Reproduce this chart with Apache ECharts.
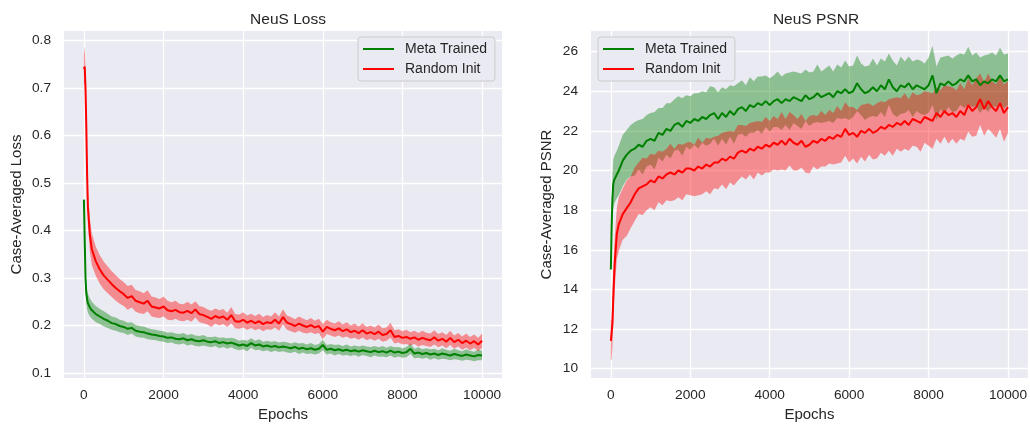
<!DOCTYPE html>
<html><head><meta charset="utf-8">
<script src="https://cdn.jsdelivr.net/npm/echarts@6/dist/echarts.min.js"></script>
<style>html,body{margin:0;padding:0;background:#fff}#c{width:1030px;height:427px}</style>
</head><body><div id="c"></div>
<script>
const epochs = [0,20,40,60,80,100,150,200,300,400,500,600,700,800,900,1000,1100,1200,1300,1400,1500,1600,1700,1800,1900,2000,2100,2200,2300,2400,2500,2600,2700,2800,2900,3000,3100,3200,3300,3400,3500,3600,3700,3800,3900,4000,4100,4200,4300,4400,4500,4600,4700,4800,4900,5000,5100,5200,5300,5400,5500,5600,5700,5800,5900,6000,6100,6200,6300,6400,6500,6600,6700,6800,6900,7000,7100,7200,7300,7400,7500,7600,7700,7800,7900,8000,8100,8200,8300,8400,8500,8600,8700,8800,8900,9000,9100,9200,9300,9400,9500,9600,9700,9800,9900,10000];

const epochTicks = [0,2000,4000,6000,8000,10000];
const lossTicks = [0.1,0.2,0.3,0.4,0.5,0.6,0.7,0.8];
const psnrTicks = [10,12,14,16,18,20,22,24,26];

// NeuS Loss - Random Init (mean, band half-width)
const lossRandom = [0.740,0.745,0.700,0.620,0.520,0.450,0.390,0.360,0.335,0.318,0.305,0.296,0.287,0.279,0.272,0.266,0.258,0.262,0.252,0.249,0.246,0.252,0.240,0.238,0.236,0.240,0.232,0.230,0.233,0.228,0.227,0.231,0.226,0.234,0.224,0.222,0.218,0.214,0.220,0.216,0.219,0.212,0.222,0.209,0.208,0.212,0.206,0.210,0.205,0.209,0.203,0.207,0.205,0.212,0.204,0.218,0.206,0.203,0.199,0.204,0.200,0.197,0.201,0.196,0.199,0.187,0.197,0.193,0.190,0.194,0.188,0.192,0.186,0.189,0.184,0.190,0.183,0.186,0.182,0.187,0.180,0.182,0.190,0.176,0.178,0.174,0.176,0.172,0.175,0.170,0.174,0.171,0.169,0.175,0.168,0.172,0.166,0.174,0.165,0.170,0.163,0.168,0.162,0.167,0.160,0.168];
const lossRandomBand = [0.030,0.042,0.040,0.038,0.036,0.035,0.035,0.033,0.031,0.030,0.029,0.028,0.027,0.027,0.026,0.025,0.025,0.024,0.023,0.023,0.022,0.022,0.021,0.021,0.020,0.021,0.020,0.019,0.019,0.018,0.018,0.019,0.018,0.017,0.017,0.017,0.016,0.017,0.016,0.016,0.016,0.015,0.017,0.015,0.015,0.016,0.015,0.015,0.015,0.016,0.015,0.015,0.014,0.016,0.015,0.016,0.015,0.015,0.014,0.015,0.015,0.014,0.015,0.014,0.015,0.016,0.015,0.014,0.014,0.015,0.014,0.015,0.014,0.015,0.014,0.015,0.014,0.014,0.014,0.015,0.014,0.014,0.016,0.014,0.014,0.014,0.015,0.014,0.014,0.014,0.015,0.014,0.014,0.015,0.014,0.014,0.014,0.015,0.014,0.014,0.014,0.015,0.014,0.014,0.014,0.015];
// NeuS Loss - Meta Trained
const lossMeta = [0.465,0.380,0.300,0.268,0.255,0.247,0.238,0.232,0.224,0.219,0.214,0.210,0.205,0.203,0.199,0.197,0.193,0.195,0.189,0.187,0.186,0.183,0.181,0.180,0.178,0.177,0.174,0.175,0.172,0.171,0.173,0.169,0.171,0.168,0.167,0.169,0.166,0.165,0.167,0.163,0.165,0.162,0.164,0.161,0.158,0.160,0.157,0.163,0.158,0.160,0.156,0.158,0.155,0.157,0.154,0.156,0.154,0.152,0.155,0.151,0.153,0.150,0.152,0.149,0.151,0.159,0.149,0.151,0.148,0.150,0.147,0.149,0.146,0.148,0.145,0.148,0.146,0.144,0.147,0.144,0.146,0.143,0.147,0.143,0.145,0.142,0.144,0.151,0.141,0.143,0.140,0.142,0.139,0.141,0.138,0.141,0.139,0.137,0.140,0.138,0.136,0.139,0.137,0.135,0.138,0.137];
const lossMetaBand = [0.004,0.015,0.020,0.020,0.020,0.020,0.019,0.018,0.017,0.016,0.016,0.015,0.014,0.014,0.013,0.013,0.013,0.012,0.012,0.012,0.012,0.012,0.011,0.011,0.011,0.011,0.011,0.011,0.011,0.011,0.011,0.011,0.011,0.011,0.011,0.011,0.010,0.011,0.010,0.011,0.010,0.011,0.010,0.011,0.010,0.010,0.011,0.010,0.010,0.011,0.010,0.010,0.011,0.010,0.010,0.010,0.011,0.010,0.010,0.011,0.010,0.010,0.011,0.010,0.010,0.011,0.010,0.010,0.011,0.010,0.010,0.011,0.010,0.010,0.011,0.010,0.010,0.011,0.010,0.010,0.011,0.010,0.010,0.011,0.010,0.010,0.011,0.011,0.010,0.011,0.010,0.010,0.011,0.010,0.010,0.011,0.010,0.010,0.011,0.010,0.010,0.011,0.010,0.010,0.011,0.010];

// NeuS PSNR - Meta Trained
const psnrMeta = [15.0,17.2,18.6,19.3,19.5,19.6,19.8,20.0,20.5,20.8,21.0,21.1,21.3,21.2,21.5,21.6,21.5,21.9,21.8,22.1,22.0,22.3,22.4,22.2,22.5,22.4,22.6,22.5,22.7,22.6,22.8,22.9,22.6,22.9,22.7,23.0,22.8,23.1,23.2,23.0,23.3,23.2,23.4,23.3,23.5,23.3,23.5,23.6,23.4,23.6,23.5,23.7,23.6,23.5,23.8,23.6,23.7,23.9,23.7,23.8,23.9,23.7,24.0,23.9,24.1,23.9,24.0,24.4,24.1,23.9,24.0,24.2,24.0,24.3,24.1,24.6,24.2,24.0,24.3,24.2,24.4,24.1,24.3,24.2,24.1,24.3,24.8,23.9,24.4,24.3,24.5,24.3,24.4,24.6,24.5,24.8,24.5,24.6,24.3,24.5,24.4,24.6,24.5,24.8,24.5,24.6];
const psnrMetaBand = [0.3,0.9,1.1,1.2,1.2,1.2,1.2,1.25,1.3,1.25,1.3,1.35,1.25,1.4,1.3,1.3,1.45,1.25,1.35,1.3,1.4,1.3,1.35,1.45,1.3,1.35,1.3,1.4,1.3,1.35,1.45,1.3,1.35,1.3,1.4,1.3,1.45,1.3,1.35,1.3,1.4,1.3,1.35,1.45,1.3,1.35,1.3,1.4,1.35,1.3,1.45,1.3,1.35,1.4,1.3,1.35,1.3,1.45,1.3,1.35,1.4,1.3,1.35,1.3,1.45,1.35,1.3,1.4,1.3,1.35,1.3,1.45,1.3,1.35,1.4,1.3,1.35,1.3,1.45,1.3,1.35,1.4,1.3,1.35,1.3,1.4,1.5,1.35,1.3,1.45,1.3,1.35,1.4,1.3,1.35,1.45,1.3,1.35,1.4,1.3,1.45,1.35,1.3,1.4,1.35,1.3];
// NeuS PSNR - Random Init
const psnrRandom = [11.4,11.5,12.3,13.5,14.6,15.4,16.8,17.3,17.8,18.1,18.4,18.8,19.1,19.2,19.3,19.5,19.4,19.7,19.6,19.8,19.9,19.8,20.0,19.9,20.1,20.1,20.0,20.2,20.1,20.3,20.2,20.4,20.4,20.6,20.5,20.7,20.6,20.9,21.0,20.9,21.1,21.0,21.2,21.1,21.3,21.2,21.4,21.3,21.5,21.3,21.6,21.4,21.3,21.5,21.2,21.3,21.5,21.4,21.6,21.5,21.7,21.6,21.8,21.7,22.1,21.8,21.9,21.7,22.0,21.9,22.1,21.9,22.0,22.2,22.1,22.3,22.2,22.4,22.3,22.5,22.3,22.6,22.5,22.4,22.7,22.6,22.5,22.9,22.7,23.0,22.8,22.9,22.7,23.0,22.8,23.3,23.0,23.2,23.6,23.1,23.5,23.2,23.0,23.4,22.9,23.2];
const psnrRandomBand = [1.0,1.0,1.2,1.3,1.3,1.3,1.3,1.35,1.3,1.4,1.3,1.35,1.3,1.45,1.3,1.35,1.4,1.3,1.35,1.3,1.45,1.3,1.35,1.4,1.3,1.35,1.3,1.45,1.3,1.35,1.4,1.3,1.35,1.3,1.45,1.3,1.35,1.4,1.3,1.35,1.3,1.45,1.3,1.35,1.4,1.3,1.35,1.3,1.45,1.3,1.35,1.4,1.3,1.35,1.3,1.45,1.3,1.35,1.4,1.3,1.35,1.3,1.45,1.3,1.35,1.4,1.3,1.35,1.3,1.45,1.3,1.35,1.4,1.3,1.35,1.3,1.45,1.3,1.35,1.4,1.3,1.35,1.3,1.45,1.3,1.35,1.4,1.3,1.35,1.3,1.45,1.3,1.35,1.4,1.3,1.35,1.3,1.45,1.3,1.35,1.4,1.3,1.35,1.3,1.45,1.3];

const FONT = '"Liberation Sans", Arial, sans-serif';
const TXT = '#262626';
const GREEN = '#008000', RED = '#ff0000';

function band(idx, mean, half, fill) {
  return {
    type: 'custom', xAxisIndex: idx, yAxisIndex: idx, silent: true, z: 1, clip: true,
    data: [[epochs[0], mean[0]]],
    renderItem: function (params, api) {
      const pts = [];
      for (let i = 0; i < epochs.length; i++) pts.push(api.coord([epochs[i], mean[i] + half[i]]));
      for (let i = epochs.length - 1; i >= 0; i--) pts.push(api.coord([epochs[i], mean[i] - half[i]]));
      return { type: 'polygon', shape: { points: pts }, style: { fill: fill } };
    }
  };
}
function line(idx, name, mean, color) {
  return {
    type: 'line', name: name, xAxisIndex: idx, yAxisIndex: idx, z: 3, clip: true,
    showSymbol: false, symbol: 'none', silent: true,
    data: epochs.map((e, i) => [e, mean[i]]),
    lineStyle: { color: color, width: 2 }, itemStyle: { color: color }
  };
}
function xAx(idx) {
  return {
    type: 'value', gridIndex: idx, min: -500, max: 10500,
    axisLine: { show: false }, axisTick: { show: false, customValues: epochTicks },
    axisLabel: { customValues: epochTicks, color: TXT, fontSize: 13.7, fontFamily: FONT, margin: 10, formatter: v => String(v) },
    splitLine: { show: true, lineStyle: { color: '#ffffff', width: 1.3 } },
    name: 'Epochs', nameLocation: 'middle', nameGap: 29,
    nameTextStyle: { color: TXT, fontSize: 15, fontFamily: FONT }
  };
}
function yAx(idx, min, max, ticks, name, fmt, gap) {
  return {
    type: 'value', gridIndex: idx, min: min, max: max,
    axisLine: { show: false }, axisTick: { show: false, customValues: ticks },
    axisLabel: { customValues: ticks, color: TXT, fontSize: 13.7, fontFamily: FONT, margin: 13, formatter: fmt },
    splitLine: { show: true, lineStyle: { color: '#ffffff', width: 1.3 } },
    name: name, nameLocation: 'middle', nameGap: gap,
    nameTextStyle: { color: TXT, fontSize: 15, fontFamily: FONT }
  };
}
function legend(left) {
  return {
    left: left, top: 37, orient: 'vertical', data: ['Meta Trained', 'Random Init'],
    icon: 'rect', itemWidth: 31, itemHeight: 2, itemGap: 6,
    padding: [5, 8, 5, 5], backgroundColor: '#EAEAF2', borderColor: '#cccccc', borderWidth: 1, borderRadius: 3,
    textStyle: { color: TXT, fontSize: 14, fontFamily: FONT, padding: [0, 0, 0, 6] },
    selectedMode: false
  };
}

const chart = echarts.init(document.getElementById('c'), null, { renderer: 'canvas' });
chart.setOption({
  animation: false,
  backgroundColor: '#ffffff',
  title: [
    { text: 'NeuS Loss', left: 283, top: 7, textAlign: 'center', textStyle: { fontSize: 15.5, fontWeight: 'normal', color: TXT, fontFamily: FONT } },
    { text: 'NeuS PSNR', left: 811, top: 7, textAlign: 'center', textStyle: { fontSize: 15.5, fontWeight: 'normal', color: TXT, fontFamily: FONT } }
  ],
  legend: [legend(358), legend(598)],
  grid: [
    { left: 64, top: 31, width: 438, height: 349, show: true, backgroundColor: '#EAEAF2', borderWidth: 0 },
    { left: 591, top: 31, width: 440, height: 349, show: true, backgroundColor: '#EAEAF2', borderWidth: 0 }
  ],
  xAxis: [xAx(0), xAx(1)],
  yAxis: [
    yAx(0, 0.0895, 0.82, lossTicks, 'Case-Averaged Loss', v => v.toFixed(1), 40),
    yAx(1, 9.53, 27.04, psnrTicks, 'Case-Averaged PSNR', v => String(v), 37)
  ],
  series: [
    band(0, lossMeta, lossMetaBand, 'rgba(0,128,0,0.4)'),
    band(0, lossRandom, lossRandomBand, 'rgba(255,0,0,0.4)'),
    line(0, 'Meta Trained', lossMeta, GREEN),
    line(0, 'Random Init', lossRandom, RED),
    band(1, psnrMeta, psnrMetaBand, 'rgba(0,128,0,0.4)'),
    band(1, psnrRandom, psnrRandomBand, 'rgba(255,0,0,0.4)'),
    line(1, 'Meta Trained', psnrMeta, GREEN),
    line(1, 'Random Init', psnrRandom, RED)
  ]
});
</script></body></html>
